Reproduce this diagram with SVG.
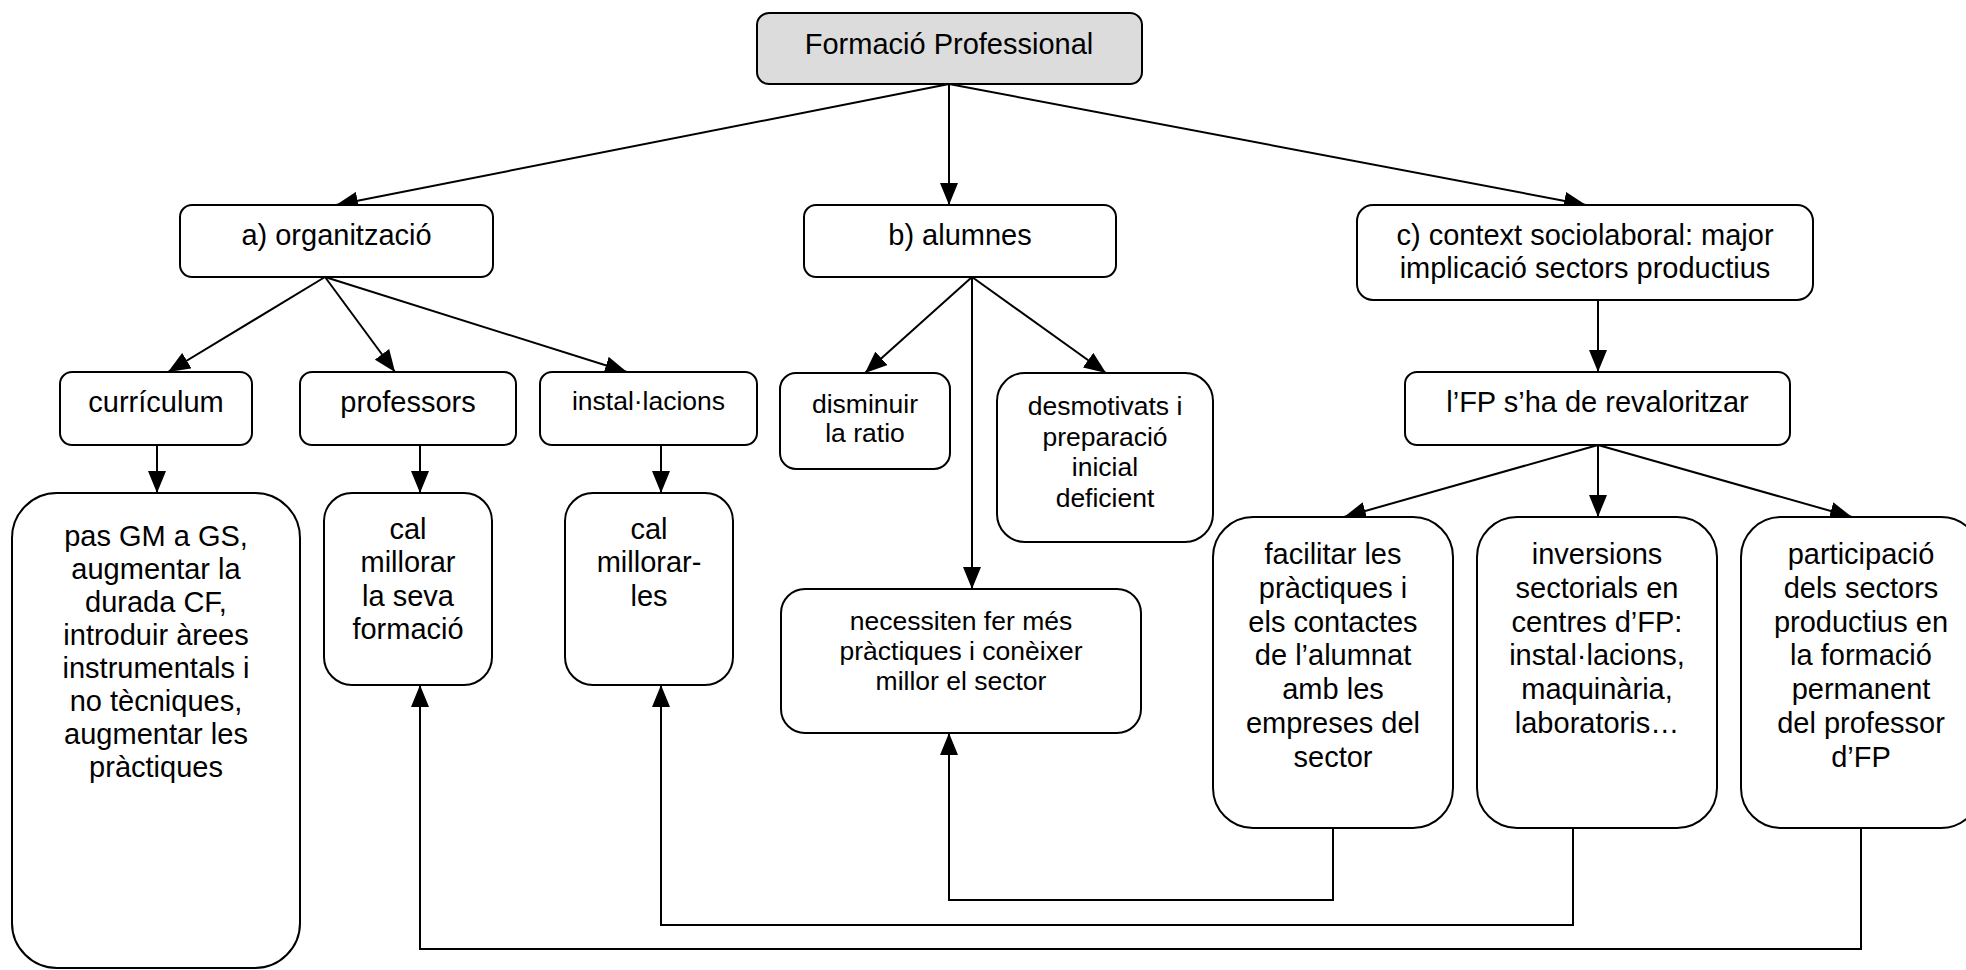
<svg xmlns="http://www.w3.org/2000/svg" width="1966" height="970" viewBox="0 0 1966 970">
<style>
.box{fill:#fff;stroke:#000;stroke-width:2}
.top{fill:#dcdcdc;stroke:#000;stroke-width:2}
.t{font-family:"Liberation Sans",Arial,sans-serif;font-size:29px;text-anchor:middle;fill:#000}
.s{font-size:26.5px}
.c{fill:none;stroke:#000;stroke-width:2}
.a{marker-end:url(#arr)}
</style>
<defs>
<marker id="arr" markerUnits="userSpaceOnUse" markerWidth="22" markerHeight="18" refX="22" refY="9" orient="auto">
<path d="M0,0 L22,9 L0,18 z" fill="#000"/>
</marker>
</defs>
<rect width="1966" height="970" fill="#fff"/>
<g id="connectors">
<line class="c a" x1="949" y1="84" x2="336" y2="205"/>
<line class="c a" x1="949" y1="84" x2="949" y2="205"/>
<line class="c a" x1="949" y1="84" x2="1586" y2="205"/>
<line class="c a" x1="325" y1="277" x2="168" y2="372"/>
<line class="c a" x1="325" y1="277" x2="395" y2="372"/>
<line class="c a" x1="325" y1="277" x2="627" y2="372"/>
<line class="c a" x1="972" y1="277" x2="865" y2="373"/>
<line class="c a" x1="972" y1="277" x2="972" y2="589"/>
<line class="c a" x1="972" y1="277" x2="1106" y2="373"/>
<line class="c a" x1="1598" y1="300" x2="1598" y2="372"/>
<line class="c a" x1="1598" y1="445" x2="1344" y2="517"/>
<line class="c a" x1="1598" y1="445" x2="1598" y2="517"/>
<line class="c a" x1="1598" y1="445" x2="1852" y2="517"/>
<line class="c a" x1="157" y1="445" x2="157" y2="493"/>
<line class="c a" x1="420" y1="445" x2="420" y2="493"/>
<line class="c a" x1="661" y1="445" x2="661" y2="493"/>
<polyline class="c a" points="1333,828 1333,900 949,900 949,733"/>
<polyline class="c a" points="1573,828 1573,925 661,925 661,685"/>
<polyline class="c a" points="1861,828 1861,949 420,949 420,685"/>
</g>
<g id="n-fp">
<rect class="top" x="757" y="13" width="385" height="71" rx="12"/>
<text class="t" x="949" y="54">Formació Professional</text>
</g>
<g id="n-org">
<rect class="box" x="180" y="205" width="313" height="72" rx="12"/>
<text class="t" x="336.5" y="245">a) organització</text>
</g>
<g id="n-alum">
<rect class="box" x="804" y="205" width="312" height="72" rx="12"/>
<text class="t" x="960" y="245">b) alumnes</text>
</g>
<g id="n-ctx">
<rect class="box" x="1357" y="205" width="456" height="95" rx="16"/>
<text class="t" x="1585" y="245">c) context sociolaboral: major</text>
<text class="t" x="1585" y="278">implicació sectors productius</text>
</g>
<g id="n-curr">
<rect class="box" x="60" y="372" width="192" height="73" rx="12"/>
<text class="t" x="156" y="412">currículum</text>
</g>
<g id="n-prof">
<rect class="box" x="300" y="372" width="216" height="73" rx="12"/>
<text class="t" x="408" y="412">professors</text>
</g>
<g id="n-inst">
<rect class="box" x="540" y="372" width="217" height="73" rx="12"/>
<text class="t s" x="648.5" y="410">instal·lacions</text>
</g>
<g id="n-dism">
<rect class="box" x="780" y="373" width="170" height="96" rx="16"/>
<text class="t s" x="865" y="413">disminuir</text>
<text class="t s" x="865" y="442">la ratio</text>
</g>
<g id="n-desm">
<rect class="box" x="997" y="373" width="216" height="169" rx="28"/>
<text class="t s" x="1105" y="415">desmotivats i</text>
<text class="t s" x="1105" y="445.5">preparació</text>
<text class="t s" x="1105" y="476">inicial</text>
<text class="t s" x="1105" y="506.5">deficient</text>
</g>
<g id="n-revi">
<rect class="box" x="1405" y="372" width="385" height="73" rx="12"/>
<text class="t" x="1597.5" y="412">l’FP s’ha de revaloritzar</text>
</g>
<g id="n-pas">
<rect class="box" x="12" y="493" width="288" height="475" rx="45"/>
<text class="t" x="156" y="546">pas GM a GS,</text>
<text class="t" x="156" y="579">augmentar la</text>
<text class="t" x="156" y="612">durada CF,</text>
<text class="t" x="156" y="645">introduir àrees</text>
<text class="t" x="156" y="678">instrumentals i</text>
<text class="t" x="156" y="711">no tècniques,</text>
<text class="t" x="156" y="744">augmentar les</text>
<text class="t" x="156" y="777">pràctiques</text>
</g>
<g id="n-calp">
<rect class="box" x="324" y="493" width="168" height="192" rx="28"/>
<text class="t" x="408" y="539">cal</text>
<text class="t" x="408" y="572">millorar</text>
<text class="t" x="408" y="605.5">la seva</text>
<text class="t" x="408" y="639">formació</text>
</g>
<g id="n-cali">
<rect class="box" x="565" y="493" width="168" height="192" rx="28"/>
<text class="t" x="649" y="539">cal</text>
<text class="t" x="649" y="572">millorar-</text>
<text class="t" x="649" y="605.5">les</text>
</g>
<g id="n-nec">
<rect class="box" x="781" y="589" width="360" height="144" rx="24"/>
<text class="t s" x="961" y="630">necessiten fer més</text>
<text class="t s" x="961" y="660">pràctiques i conèixer</text>
<text class="t s" x="961" y="690">millor el sector</text>
</g>
<g id="n-fac">
<rect class="box" x="1213" y="517" width="240" height="311" rx="40"/>
<text class="t" x="1333" y="564">facilitar les</text>
<text class="t" x="1333" y="598">pràctiques i</text>
<text class="t" x="1333" y="631.5">els contactes</text>
<text class="t" x="1333" y="665">de l’alumnat</text>
<text class="t" x="1333" y="699">amb les</text>
<text class="t" x="1333" y="733">empreses del</text>
<text class="t" x="1333" y="767">sector</text>
</g>
<g id="n-inv">
<rect class="box" x="1477" y="517" width="240" height="311" rx="40"/>
<text class="t" x="1597" y="564">inversions</text>
<text class="t" x="1597" y="598">sectorials en</text>
<text class="t" x="1597" y="631.5">centres d’FP:</text>
<text class="t" x="1597" y="665">instal·lacions,</text>
<text class="t" x="1597" y="699">maquinària,</text>
<text class="t" x="1597" y="733">laboratoris…</text>
</g>
<g id="n-part">
<rect class="box" x="1741" y="517" width="240" height="311" rx="40"/>
<text class="t" x="1861" y="564">participació</text>
<text class="t" x="1861" y="598">dels sectors</text>
<text class="t" x="1861" y="631.5">productius en</text>
<text class="t" x="1861" y="665">la formació</text>
<text class="t" x="1861" y="699">permanent</text>
<text class="t" x="1861" y="733">del professor</text>
<text class="t" x="1861" y="767">d’FP</text>
</g>
</svg>
